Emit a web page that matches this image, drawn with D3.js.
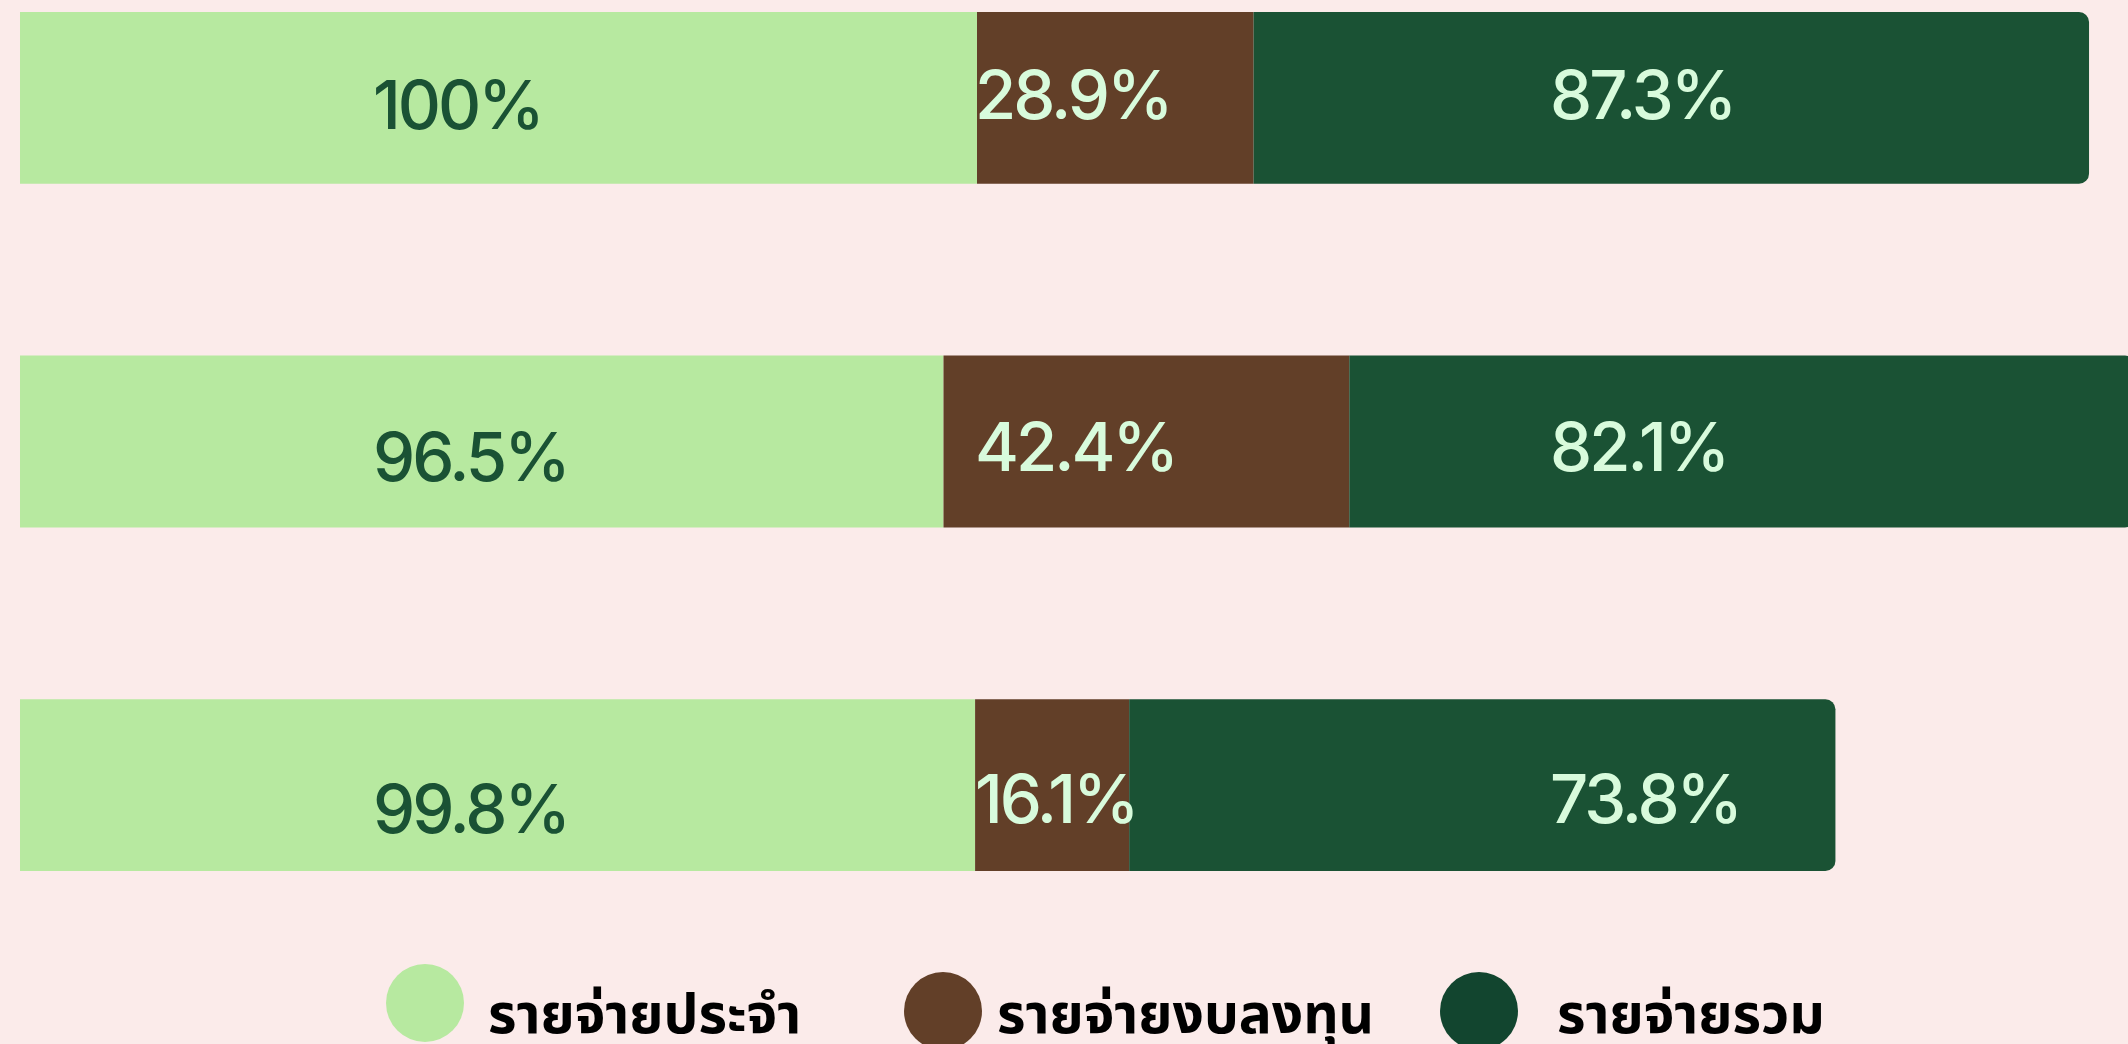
<!DOCTYPE html>
<html>
<head>
<meta charset="utf-8">
<script src="https://cdn.jsdelivr.net/npm/d3@7"></script>
<style>
	html, body { margin: 0; padding: 0; background: #fbebea; overflow: hidden; }
	svg { display: block; }
	.value-label { font-family: Inter, Roboto, sans-serif; font-size: 67px; font-weight: 500; letter-spacing: -3px; }
	.legend-label { font-family: "Noto Sans Thai", "Noto Sans", Loma, sans-serif; font-weight: 700; font-size: 55px; fill: #000; }
</style>
</head>
<body>
<svg id="chart-1" width="2128" height="1044"></svg>
<script>
// rows (no visible row labels in the picture)
const categories = ['row1', 'row2', 'row3'];
const series = ['รายจ่ายประจำ', 'รายจ่ายงบลงทุน', 'รายจ่ายรวม'];
// values in percent, per series, in row order
const regularValues = [100, 96.5, 99.8];
const investValues  = [28.9, 42.4, 16.1];
const totalValues   = [87.3, 82.1, 73.8];

const barColors   = ['#b7e9a0', '#623f28', '#1a5234'];
const labelColors = ['#1a5234', '#d8fbdc', '#d8fbdc'];
const legendColors = ['#b7e9a0', '#623f28', '#12452f'];

const svg = d3.select('svg#chart-1');

// build table for the stack
const table = categories.map((c, i) => ({
	cat: c,
	[series[0]]: regularValues[i],
	[series[1]]: investValues[i],
	[series[2]]: totalValues[i]
}));
const stacked = d3.stack().keys(series)(table);

const x = d3.scaleLinear().domain([0, 100]).range([20, 977]);
const y = d3.scaleBand().domain(categories).range([12, 871]).paddingInner(0.5).paddingOuter(0);
const color = d3.scaleOrdinal().domain(series).range(barColors);
const labelColor = d3.scaleOrdinal().domain(series).range(labelColors);

// label columns sit at fixed spots, not centered in the segments
const labelX = d3.scaleOrdinal().domain(series).range([373, 975, 1550]);
const labelY = d3.scalePoint().domain(categories).range([119, 823]);
const labelShift = d3.scaleOrdinal().domain(series).range([10, 0, 0]);

// rect with rounded right corners only
function roundRight(x0, y0, w, h, r) {
	const p = d3.path();
	p.moveTo(x0, y0);
	p.lineTo(x0 + w - r, y0);
	p.arcTo(x0 + w, y0, x0 + w, y0 + r, r);
	p.lineTo(x0 + w, y0 + h - r);
	p.arcTo(x0 + w, y0 + h, x0 + w - r, y0 + h, r);
	p.lineTo(x0, y0 + h);
	p.closePath();
	return p.toString();
}

const layers = svg.append('g').selectAll('g')
	.data(stacked)
	.enter().append('g')
		.attr('fill', d => color(d.key));

layers.each(function(layer, li) {
	const last = li === stacked.length - 1;
	d3.select(this).selectAll('path')
		.data(layer)
		.enter().append('path')
			.attr('d', d => roundRight(x(d[0]), y(d.data.cat), x(d[1]) - x(d[0]), y.bandwidth(), last ? 10 : 0));
});

// value labels
const labels = svg.append('g');
stacked.forEach(layer => {
	labels.selectAll(null)
		.data(layer)
		.enter().append('text')
			.attr('class', 'value-label')
			.attr('x', labelX(layer.key))
			.attr('y', d => labelY(d.data.cat) + labelShift(layer.key))
			.attr('fill', labelColor(layer.key))
			.text(d => (d[1] - d[0]).toFixed(1).replace(/\.0$/, '') + '%');
});

// legend (items are not evenly spaced in the original)
const legendX = d3.scaleOrdinal().domain(series).range([425, 943, 1479]);
const legendY = d3.scaleOrdinal().domain(series).range([1003, 1011, 1011]);
const legendGap = d3.scaleOrdinal().domain(series).range([63, 54, 78]);
const legend = svg.append('g').selectAll('g')
	.data(series)
	.enter().append('g')
		.attr('transform', d => `translate(${legendX(d)},${legendY(d)})`);

legend.append('circle')
	.attr('r', 39)
	.attr('fill', (d, i) => legendColors[i]);

legend.append('text')
	.attr('class', 'legend-label')
	.attr('x', d => legendGap(d))
	.attr('y', d => 1033 - legendY(d))
	.text(d => d);
</script>
</body>
</html>
